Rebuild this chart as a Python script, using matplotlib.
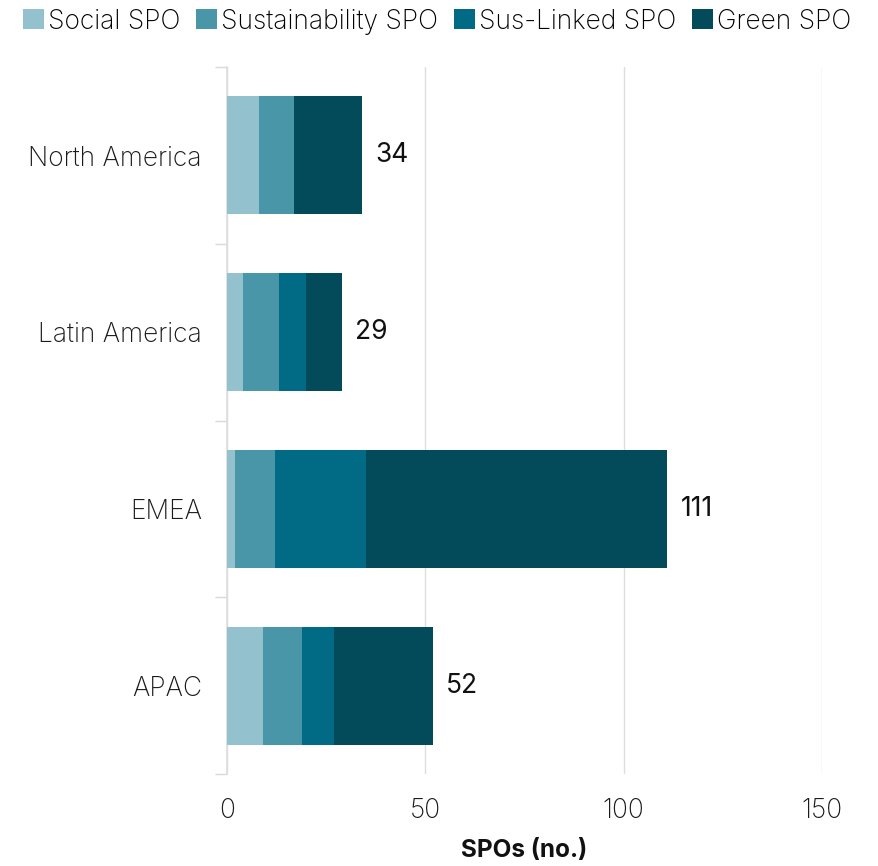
import matplotlib
matplotlib.use("Agg")
import matplotlib.pyplot as plt
import numpy as np

regions = ["North America", "Latin America", "EMEA", "APAC"]
series_names = ["Social SPO", "Sustainability SPO", "Sus-Linked SPO", "Green SPO"]
social = [8, 4, 2, 9]
sustainability = [9, 9, 10, 10]
sus_linked = [0, 7, 23, 8]
green = [17, 9, 76, 25]
totals = [34, 29, 111, 52]
x_ticks = [0, 50, 100, 150]

colors = ["#94C1CE", "#4A96A9", "#016B86", "#034A5A"]

plt.rcParams["font.family"] = ["Inter", "DejaVu Sans"]

fig = plt.figure(figsize=(8.79, 8.66), dpi=100)
ax = fig.add_axes([227 / 879, 1 - 774 / 866, (822 - 227) / 879, (774 - 67) / 866])

y = np.arange(len(regions))
left = np.zeros(len(regions))
for name, vals, col in zip(series_names, [social, sustainability, sus_linked, green], colors):
    vals = np.array(vals, dtype=float)
    ax.barh(y, vals, left=left, height=0.667, color=col, label=name, zorder=3)
    left += vals

for yi, t in zip(y, totals):
    ax.text(t + 3.3, yi, f"{t}", va="center", ha="left", fontsize=19,
            color="#111111", fontweight="regular")

ax.set_ylim(len(regions) - 0.5, -0.5)
ax.set_xlim(0, 150)
ax.set_xticks(x_ticks)
ax.set_xticklabels([str(v) for v in x_ticks], fontsize=19, fontweight="light", color="#1a1a1a")
ax.set_yticks(y)
ax.set_yticklabels(regions, fontsize=19, fontweight="light", color="#1a1a1a")
ax.set_yticks(np.arange(len(regions) + 1) - 0.5, minor=True)
ax.tick_params(axis="y", which="major", length=0, pad=18)
ax.tick_params(axis="y", which="minor", length=9, color="#d9d9d9", width=1)
ax.tick_params(axis="x", length=0, pad=17)

ax.grid(axis="x", color="#dddddd", linewidth=1, zorder=0)
for s in ["top", "right", "bottom"]:
    ax.spines[s].set_visible(False)
ax.spines["left"].set_color("#dddddd")
ax.spines["left"].set_linewidth(1.2)

ax.set_xlabel("SPOs (no.)", fontsize=17.5, fontweight="bold", color="#111111", labelpad=11)

fig.legend(loc="upper left", bbox_to_anchor=(12 / 879, 1 + 2 / 866), ncol=4, frameon=False,
           handlelength=0.8, handleheight=0.8, handletextpad=0.15,
           columnspacing=0.6, borderaxespad=0, prop={"size": 19, "weight": "light"})

fig.savefig("out.png", dpi=100)
